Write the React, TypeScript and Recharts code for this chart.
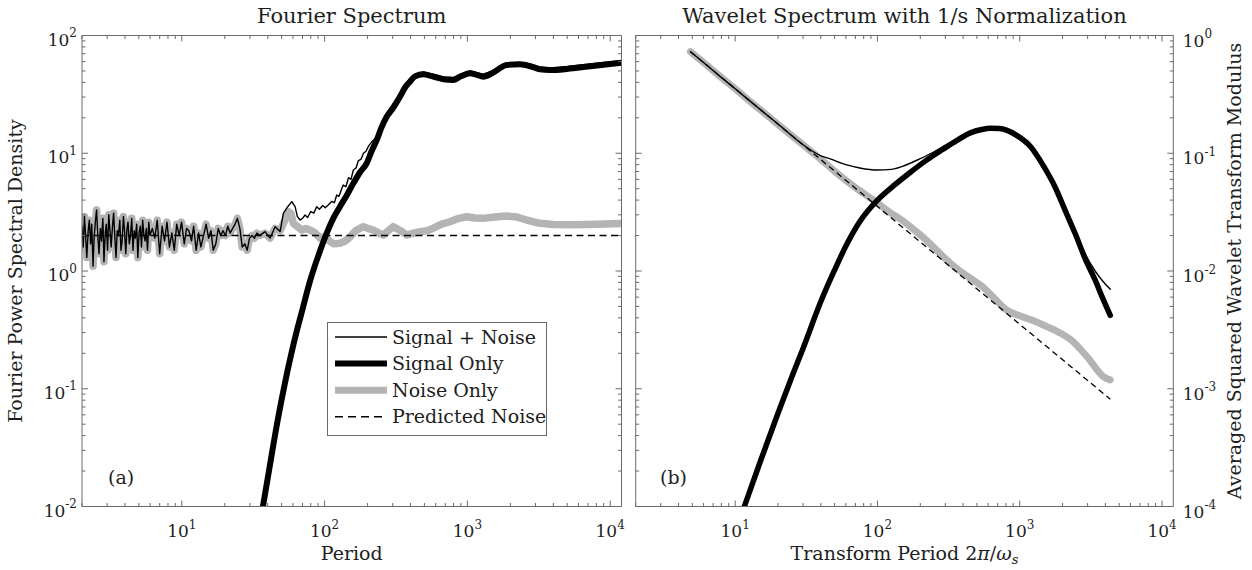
import { Legend, Line, LineChart, XAxis, YAxis } from "recharts";

const W = 1252;
const H = 570;
// axes take 1px each, so margins are one px short of the plot box
const TOP = 35.5 - 1;
const BOTTOM = H - 506.5 - 1;
const A_LEFT = 82 - 1;
const A_RIGHT = W - 621.5 - 1;
const B_LEFT = 635.7 - 1;
const B_RIGHT = W - 1173.3 - 1;

const FONT = "'DejaVu Serif', serif";
const TXT = "#1e1e1e";
const AXIS = "#6a6a6a";
const BLACK = "#000000";
const GRAY = "#b4b4b4";

const X_DOMAIN: [number, number] = [2, 12000];
const A_Y_DOMAIN: [number, number] = [0.01, 100];
const B_Y_DOMAIN: [number, number] = [0.0001, 1];

// (a) Fourier spectrum: shared noisy part at short periods
const NOISE_LOW_PERIOD = [
  2.0, 2.04, 2.08, 2.12, 2.16, 2.21, 2.25, 2.3, 2.34, 2.39, 2.43, 2.48, 2.53, 2.58, 2.63, 2.69, 2.74, 2.8,
  2.85, 2.91, 2.96, 3.02, 3.08, 3.14, 3.2, 3.27, 3.33, 3.4, 3.46, 3.53, 3.6, 3.68, 3.75, 3.82, 3.9, 3.98,
  4.05, 4.13, 4.2, 4.29, 4.37, 4.46, 4.55, 4.64, 4.73, 4.83, 4.92, 5.02, 5.12, 5.22, 5.32, 5.43, 5.53, 5.64,
  5.75, 5.87, 5.98, 6.22, 6.47, 6.73, 7.0, 7.28, 7.57, 7.87, 8.19, 8.52, 8.86, 9.21, 9.58, 9.96, 10.4, 10.8,
  11.2, 11.7, 12.1, 12.6, 13.1, 13.6, 14.2, 14.8, 15.4, 16.0, 16.6, 17.3, 18.0, 18.7, 19.4, 20.2, 21.0, 21.8,
  22.7, 23.6, 24.5, 25.5, 26.5, 27.6, 28.7, 29.8, 31.0, 32.3, 33.6, 35.0,
];
const NOISE_LOW_VALUE = [
  2.4, 1.6, 2.9, 2.0, 1.3, 2.2, 2.7, 1.7, 2.5, 1.1, 1.9, 2.6, 3.3, 2.0, 1.4, 2.3, 1.8, 2.8,
  1.2, 2.1, 2.5, 1.5, 3.0, 2.2, 1.6, 2.4, 3.1, 1.9, 1.3, 2.2, 2.0, 2.7, 1.5, 1.8, 2.9, 2.1,
  1.4, 2.3, 2.6, 1.7, 2.0, 2.8, 1.5, 2.2, 1.9, 2.5, 1.3, 2.1, 2.4, 1.6, 2.7, 2.0, 1.8, 2.3,
  1.5, 2.6, 2.0, 2.3, 1.9, 2.7, 1.4, 2.4, 1.8, 2.6, 1.6, 2.1, 1.5, 2.5, 2.0, 2.6, 1.7, 2.3,
  2.2, 1.8, 2.4, 1.5, 2.1, 1.6, 2.0, 2.5, 1.9, 2.2, 1.5, 1.7, 2.3, 2.0, 2.2, 2.0, 2.4, 2.1,
  2.3, 2.5, 2.8, 2.3, 1.6, 1.7, 1.5, 1.9, 2.0, 1.9, 2.1, 2.0,
];

const A_NOISE_PERIOD = [
  38.3, 41.5, 45, 48.8, 52, 55.7, 58, 60.4, 64, 69.2, 74, 79, 86, 92.9, 99, 106, 116, 128, 140, 151, 165,
  187, 200, 219, 240, 258, 280, 303, 340, 376, 420, 466, 520, 577, 660, 755, 870, 988, 1130, 1291, 1550,
  1884, 2200, 2600, 3221, 4000, 5500, 8000, 12000,
];
const A_NOISE_VALUE = [
  2.1, 1.9, 2.3, 2.2, 2.6, 3.19, 3.1, 2.54, 2.4, 2.23, 2.3, 2.23, 2.1, 1.9, 1.95, 1.83, 1.7, 1.72, 1.8, 1.95, 2.2,
  2.38, 2.3, 2.23, 2.1, 2.02, 2.2, 2.38, 2.2, 2.02, 2.1, 2.16, 2.2, 2.31, 2.5, 2.62, 2.8, 2.89, 2.82, 2.8, 2.88,
  2.93, 2.88, 2.71, 2.54, 2.48, 2.47, 2.5, 2.53,
];

const A_SUM_PERIOD = [
  38.3, 41.5, 45, 48.8, 51.4, 55, 58.9, 62.1, 64.5, 67.3, 70, 73, 76, 80, 84, 88.1, 92, 97, 101, 106, 112, 117,
  121.6, 126, 131, 135, 141, 147, 153, 159, 166, 172, 180, 187, 195, 203, 214, 228, 244, 272, 300, 337, 360,
  396, 430, 491, 577, 680, 796, 900, 1042, 1150, 1291, 1500, 1884, 2335, 2800, 3221, 3786, 5000, 7000, 9000,
  12000,
];
const A_SUM_VALUE = [
  2.16, 1.9, 2.38, 2.16, 3.09, 3.5, 3.88, 3.52, 2.9, 2.71, 2.8, 2.99, 2.85, 3.2, 3.1, 3.52, 3.35, 3.6, 3.45, 3.64,
  3.9, 3.8, 4.42, 4.3, 4.9, 5.37, 5.2, 6.2, 6.0, 7.21, 7.5, 8.6, 8.9, 10.0, 10.4, 11.5, 12.5, 13.5, 15.2, 22, 26,
  32, 38, 42.5, 47, 49, 47, 44.5, 44, 47, 50, 48.5, 47, 50, 58.5, 59, 57, 54, 53, 54.5, 57, 59, 61,
];

const A_SIGNAL_PERIOD = [
  34, 37, 41, 47, 53, 58, 63, 70, 79, 90, 103, 115, 128, 143, 159, 177, 197, 214, 232, 250, 272, 300, 337,
  365, 396, 430, 491, 577, 680, 796, 900, 1042, 1150, 1291, 1500, 1884, 2335, 2800, 3221, 3786, 5000, 7000,
  9000, 12000,
];
const A_SIGNAL_VALUE = [
  0.0055, 0.01, 0.0209, 0.0545, 0.115, 0.19, 0.29, 0.471, 0.82, 1.33, 2.07, 2.8, 3.52, 4.4, 5.56, 6.9, 8.22,
  10.5, 13.0, 16.5, 20.4, 24, 30.2, 36, 40.5, 45, 46.8, 44.7, 42.5, 41.9, 45, 47.7, 46.5, 44.7, 48, 56.2, 56.9,
  54.5, 51.6, 50.9, 52, 54.5, 56.5, 58.7,
];

const A_PRED_PERIOD = [2, 12000];
const A_PRED_VALUE = [2, 2];

// (b) wavelet spectrum
const B_SIGNAL_PERIOD = [
  10.5, 11.6, 15, 20, 25, 30, 40, 50, 60, 75, 100, 130, 168, 220, 285, 360, 450, 540, 623, 720, 807, 950,
  1189, 1450, 1767, 2100, 2444, 2900, 3386, 3800, 4325,
];
const B_SIGNAL_VALUE = [
  0.000071, 0.0001, 0.00024, 0.00062, 0.00126, 0.0022, 0.0055, 0.0102, 0.0163, 0.0262, 0.04, 0.053, 0.068,
  0.087, 0.107, 0.128, 0.149, 0.159, 0.163, 0.162, 0.157, 0.142, 0.114, 0.08, 0.052, 0.032, 0.021, 0.0125,
  0.0084, 0.006, 0.0042,
];

const B_SUM_PERIOD = [
  4.85, 6, 8, 10, 15, 20, 30, 35, 40, 46, 60, 75, 100, 125, 148, 200, 250, 285, 360, 450, 540, 623, 720, 807,
  950, 1189, 1450, 1767, 2100, 2444, 2900, 3386, 3800, 4325,
];
const B_SUM_VALUE = [
  0.728, 0.59, 0.44, 0.353, 0.235, 0.177, 0.118, 0.104, 0.095, 0.09, 0.08, 0.075, 0.072, 0.073, 0.077, 0.09,
  0.103, 0.113, 0.132, 0.152, 0.162, 0.166, 0.165, 0.16, 0.145, 0.117, 0.083, 0.055, 0.035, 0.0225, 0.0138,
  0.01, 0.0083, 0.007,
];

const B_NOISE_PERIOD = [
  4.85, 6, 8, 10, 13, 17, 22, 30, 40, 52, 70, 97, 120, 148, 180, 220, 280, 347, 430, 547, 660, 807, 1045,
  1300, 1549, 1900, 2291, 2972, 3864, 4325,
];
const B_NOISE_VALUE = [
  0.728, 0.59, 0.44, 0.353, 0.27, 0.207, 0.16, 0.118, 0.089, 0.0676, 0.051, 0.0388, 0.032, 0.0271, 0.0225,
  0.0183, 0.0138, 0.0109, 0.009, 0.00736, 0.0059, 0.00467, 0.00409, 0.0037, 0.00337, 0.003, 0.0026, 0.00187,
  0.00127, 0.00119,
];

const B_PRED_PERIOD = [4.85, 4325];
const B_PRED_VALUE = [0.728, 0.000816];

type Pt = { x: number; y: number };
const zip = (xs: number[], ys: number[]): Pt[] => xs.map((x, i) => ({ x, y: ys[i] }));

const aNoise = zip(NOISE_LOW_PERIOD.concat(A_NOISE_PERIOD), NOISE_LOW_VALUE.concat(A_NOISE_VALUE));
const aSum = zip(NOISE_LOW_PERIOD.concat(A_SUM_PERIOD), NOISE_LOW_VALUE.concat(A_SUM_VALUE));
const aSignal = zip(A_SIGNAL_PERIOD, A_SIGNAL_VALUE);
const aPred = zip(A_PRED_PERIOD, A_PRED_VALUE);
const bNoise = zip(B_NOISE_PERIOD, B_NOISE_VALUE);
const bSum = zip(B_SUM_PERIOD, B_SUM_VALUE);
const bSignal = zip(B_SIGNAL_PERIOD, B_SIGNAL_VALUE);
const bPred = zip(B_PRED_PERIOD, B_PRED_VALUE);

// tick positions 1..9 x 10^k inside a domain
function logTicks([lo, hi]: [number, number]) {
  const out: number[] = [];
  for (let e = -6; e <= 6; e++) {
    for (let m = 1; m <= 9; m++) {
      const v = parseFloat((m * Math.pow(10, e)).toPrecision(3));
      if (v >= lo * 0.9999 && v <= hi * 1.0001) out.push(v);
    }
  }
  return out;
}
const X_TICKS = logTicks(X_DOMAIN);
const A_Y_TICKS = logTicks(A_Y_DOMAIN);
const B_Y_TICKS = logTicks(B_Y_DOMAIN);

const isDecade = (v: number) => {
  const l = Math.log10(v);
  return Math.abs(l - Math.round(l)) < 1e-6;
};

function Pow({ x, y, v, anchor }: { x: number; y: number; v: number; anchor: "start" | "middle" | "end" }) {
  return (
    <text x={x} y={y} textAnchor={anchor} fontFamily={FONT} fontSize={17} fill={TXT}>
      10
      <tspan dy={-8.5} fontSize={12}>
        {String(Math.round(Math.log10(v)))}
      </tspan>
    </text>
  );
}

const MAJOR = 6;
const MINOR = 3.5;

const bottomTick = (p: any) => {
  const v = p.payload.value;
  const big = isDecade(v);
  return (
    <g>
      <line x1={p.x} x2={p.x} y1={p.y} y2={p.y - (big ? MAJOR : MINOR)} stroke={AXIS} />
      {big && <Pow x={p.x} y={p.y + 30.5} v={v} anchor="middle" />}
    </g>
  );
};
const topTick = (p: any) => {
  const big = isDecade(p.payload.value);
  return <line x1={p.x} x2={p.x} y1={p.y} y2={p.y + (big ? MAJOR : MINOR)} stroke={AXIS} />;
};
const leftTick = (labels: boolean) => (p: any) => {
  const v = p.payload.value;
  const big = isDecade(v);
  return (
    <g>
      <line x1={p.x} x2={p.x + (big ? MAJOR : MINOR)} y1={p.y} y2={p.y} stroke={AXIS} />
      {labels && big && <Pow x={p.x - 5} y={p.y + 10} v={v} anchor="end" />}
    </g>
  );
};
const rightTick = (labels: boolean) => (p: any) => {
  const v = p.payload.value;
  const big = isDecade(v);
  return (
    <g>
      <line x1={p.x} x2={p.x - (big ? MAJOR : MINOR)} y1={p.y} y2={p.y} stroke={AXIS} />
      {labels && big && <Pow x={p.x + 9.5} y={p.y + 11} v={v} anchor="start" />}
    </g>
  );
};

const LEGEND_ITEMS = [
  { name: "Signal + Noise", stroke: BLACK, width: 1.4, dash: undefined as string | undefined },
  { name: "Signal Only", stroke: BLACK, width: 6, dash: undefined },
  { name: "Noise Only", stroke: GRAY, width: 7, dash: undefined },
  { name: "Predicted Noise", stroke: BLACK, width: 1.4, dash: "8 5" },
];

function LegendBox() {
  return (
    <svg width={220} height={114} style={{ display: "block" }}>
      <rect x={0.5} y={0.5} width={219} height={113} fill="#fff" stroke={AXIS} />
      {LEGEND_ITEMS.map((it, i) => {
        const cy = 15 + i * 26.6;
        return (
          <g key={it.name}>
            <line x1={8} x2={60} y1={cy} y2={cy} stroke={it.stroke} strokeWidth={it.width} strokeDasharray={it.dash} />
            <text x={65} y={cy + 6.5} fontFamily={FONT} fontSize={19} fill={TXT}>
              {it.name}
            </text>
          </g>
        );
      })}
    </svg>
  );
}

const lineBase = {
  dataKey: "y",
  dot: false,
  activeDot: false,
  isAnimationActive: false,
  strokeLinejoin: "round" as const,
  strokeLinecap: "round" as const,
};

const axisCommon = {
  type: "number" as const,
  scale: "log" as const,
  allowDataOverflow: true,
  interval: 0 as const,
  tickSize: 0,
  tickMargin: 0,
  tickLine: false,
  axisLine: { stroke: AXIS },
};

export default function App() {
  const common = { width: W, height: H };
  return (
    <div style={{ position: "absolute", left: 0, top: 0, width: W, height: H, background: "#fff" }}>
      <div style={{ position: "absolute", left: 0, top: 0 }}>
        <LineChart {...common} margin={{ top: TOP, bottom: BOTTOM, left: A_LEFT, right: A_RIGHT }}>
          <XAxis {...axisCommon} xAxisId="b" dataKey="x" domain={X_DOMAIN} ticks={X_TICKS} height={1} tick={bottomTick} />
          <XAxis {...axisCommon} xAxisId="t" orientation="top" dataKey="x" domain={X_DOMAIN} ticks={X_TICKS} height={1} tick={topTick} />
          <YAxis {...axisCommon} yAxisId="l" domain={A_Y_DOMAIN} ticks={A_Y_TICKS} width={1} tick={leftTick(true)} />
          <YAxis {...axisCommon} yAxisId="r" orientation="right" domain={A_Y_DOMAIN} ticks={A_Y_TICKS} width={1} tick={rightTick(false)} />
          <Line {...lineBase} xAxisId="b" yAxisId="l" data={aNoise} name="Noise Only" type="linear" stroke={GRAY} strokeWidth={7.5} />
          <Line {...lineBase} xAxisId="b" yAxisId="l" data={aSum} name="Signal + Noise" type="linear" stroke={BLACK} strokeWidth={1.4} />
          <Line {...lineBase} xAxisId="b" yAxisId="l" data={aSignal} name="Signal Only" type="monotone" stroke={BLACK} strokeWidth={6} />
          <Line {...lineBase} xAxisId="b" yAxisId="l" data={aPred} name="Predicted Noise" type="linear" stroke={BLACK} strokeWidth={1.4} strokeDasharray="7 4.5" strokeLinecap="butt" />
          <Legend layout="horizontal" verticalAlign="middle" align="center" content={() => <LegendBox />}
            wrapperStyle={{ left: 327, top: 322, width: 220, height: 114 }} />
        </LineChart>
      </div>
      <div style={{ position: "absolute", left: 0, top: 0 }}>
        <LineChart {...common} margin={{ top: TOP, bottom: BOTTOM, left: B_LEFT, right: B_RIGHT }}>
          <XAxis {...axisCommon} xAxisId="b" dataKey="x" domain={X_DOMAIN} ticks={X_TICKS} height={1} tick={bottomTick} />
          <XAxis {...axisCommon} xAxisId="t" orientation="top" dataKey="x" domain={X_DOMAIN} ticks={X_TICKS} height={1} tick={topTick} />
          <YAxis {...axisCommon} yAxisId="l" domain={B_Y_DOMAIN} ticks={B_Y_TICKS} width={1} tick={leftTick(false)} />
          <YAxis {...axisCommon} yAxisId="r" orientation="right" domain={B_Y_DOMAIN} ticks={B_Y_TICKS} width={1} tick={rightTick(true)} />
          <Line {...lineBase} xAxisId="b" yAxisId="r" data={bNoise} name="Noise Only" type="monotone" stroke={GRAY} strokeWidth={7} />
          <Line {...lineBase} xAxisId="b" yAxisId="r" data={bSum} name="Signal + Noise" type="monotone" stroke={BLACK} strokeWidth={1.4} />
          <Line {...lineBase} xAxisId="b" yAxisId="r" data={bSignal} name="Signal Only" type="monotone" stroke={BLACK} strokeWidth={5.5} />
          <Line {...lineBase} xAxisId="b" yAxisId="r" data={bPred} name="Predicted Noise" type="linear" stroke={BLACK} strokeWidth={1.3} strokeDasharray="6 4" strokeLinecap="butt" />
        </LineChart>
      </div>
      <svg width={W} height={H} style={{ position: "absolute", left: 0, top: 0, pointerEvents: "none" }}
        fontFamily={FONT} fill={TXT}>
        <text x={351.75} y={23} textAnchor="middle" fontSize={21}>Fourier Spectrum</text>
        <text x={904.5} y={23} textAnchor="middle" fontSize={21}>Wavelet Spectrum with 1/s Normalization</text>
        <text x={351.75} y={560} textAnchor="middle" fontSize={19}>Period</text>
        <text x={904.5} y={560} textAnchor="middle" fontSize={19}>
          Transform Period 2<tspan fontStyle="italic">π</tspan>/<tspan fontStyle="italic">ω</tspan>
          <tspan fontStyle="italic" fontSize={13} dy={4}>s</tspan>
        </text>
        <text transform="translate(22,271) rotate(-90)" textAnchor="middle" fontSize={19}>Fourier Power Spectral Density</text>
        <text transform="translate(1241,271) rotate(-90)" textAnchor="middle" fontSize={19}>Averaged Squared Wavelet Transform Modulus</text>
        <text x={108} y={484} fontSize={19}>(a)</text>
        <text x={660} y={484} fontSize={19}>(b)</text>
      </svg>
    </div>
  );
}
